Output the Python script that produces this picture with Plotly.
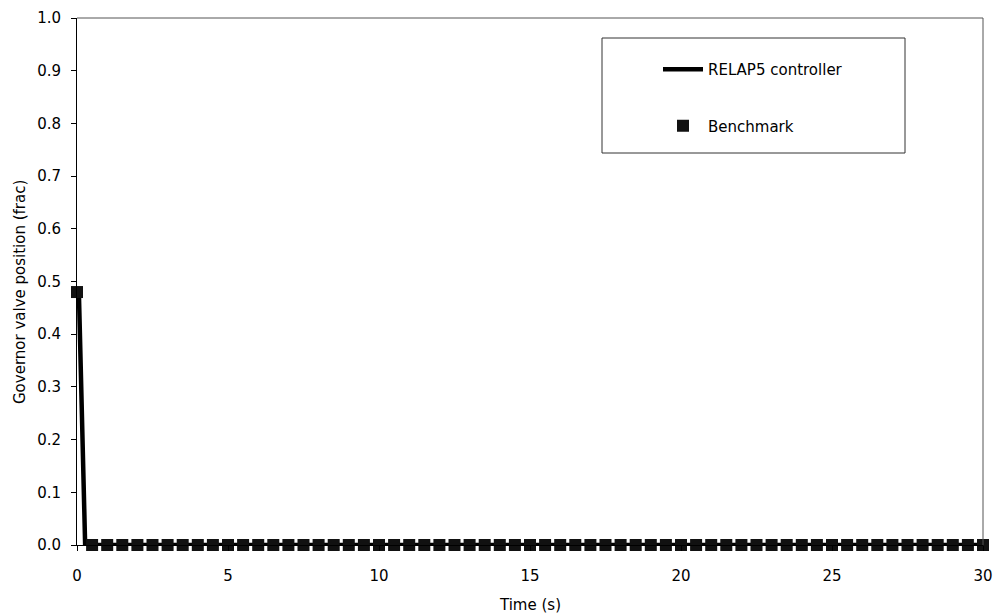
import plotly.graph_objects as go

# RELAP5 controller line
relap_time = [0.0, 0.06, 0.27, 30.0]
relap_pos = [0.485, 0.485, 0.0, 0.0]

# Benchmark points
bench_time = [0.0, 0.5, 1.0, 1.5, 2.0, 2.5, 3.0, 3.5, 4.0, 4.5, 5.0, 5.5, 6.0, 6.5, 7.0,
              7.5, 8.0, 8.5, 9.0, 9.5, 10.0, 10.5, 11.0, 11.5, 12.0, 12.5, 13.0, 13.5,
              14.0, 14.5, 15.0, 15.5, 16.0, 16.5, 17.0, 17.5, 18.0, 18.5, 19.0, 19.5,
              20.0, 20.5, 21.0, 21.5, 22.0, 22.5, 23.0, 23.5, 24.0, 24.5, 25.0, 25.5,
              26.0, 26.5, 27.0, 27.5, 28.0, 28.5, 29.0, 29.5, 30.0]
bench_pos = [0.48, 0.0, 0.0, 0.0, 0.0, 0.0, 0.0, 0.0, 0.0, 0.0, 0.0, 0.0, 0.0, 0.0, 0.0,
             0.0, 0.0, 0.0, 0.0, 0.0, 0.0, 0.0, 0.0, 0.0, 0.0, 0.0, 0.0, 0.0,
             0.0, 0.0, 0.0, 0.0, 0.0, 0.0, 0.0, 0.0, 0.0, 0.0, 0.0, 0.0,
             0.0, 0.0, 0.0, 0.0, 0.0, 0.0, 0.0, 0.0, 0.0, 0.0, 0.0, 0.0,
             0.0, 0.0, 0.0, 0.0, 0.0, 0.0, 0.0, 0.0, 0.0]

x_ticks = [0, 5, 10, 15, 20, 25, 30]
y_ticks = [0.0, 0.1, 0.2, 0.3, 0.4, 0.5, 0.6, 0.7, 0.8, 0.9, 1.0]

FONT = "DejaVu Sans"
L, R, T, B = 77, 12, 18, 71
W, H = 995, 616
PW, PH = W - L - R, H - T - B


def px_x(px):
    return (px - L) / PW


def px_y(py):
    return (H - B - py) / PH


fig = go.Figure()
fig.add_trace(go.Scatter(
    x=relap_time, y=relap_pos, mode="lines", name="RELAP5 controller",
    line=dict(color="black", width=4.5), legendgroup="a", cliponaxis=False))
fig.add_trace(go.Scatter(
    x=bench_time, y=bench_pos, mode="markers", name="Benchmark",
    marker=dict(symbol="square", size=12, color="#111111"), legendgroup="b",
    cliponaxis=False))

fig.update_layout(
    width=W, height=H,
    margin=dict(l=L, r=R, t=T, b=B, autoexpand=False),
    paper_bgcolor="white", plot_bgcolor="white",
    font=dict(family=FONT, size=15, color="black"),
    showlegend=True,
    legend=dict(x=px_x(658), y=px_y(53), xanchor="left", yanchor="top",
                bgcolor="rgba(0,0,0,0)", borderwidth=0,
                traceorder="grouped", tracegroupgap=34,
                font=dict(family=FONT, size=15), itemwidth=40),
    shapes=[
        dict(type="rect", xref="paper", yref="paper",
             x0=px_x(602), x1=px_x(905), y0=px_y(153), y1=px_y(38),
             line=dict(color="#333333", width=1), fillcolor="rgba(0,0,0,0)"),
        dict(type="path", xref="paper", yref="paper",
             path="M 0 1 L 1 1 L 1 0",
             line=dict(color="#555555", width=1)),
    ],
    annotations=[
        dict(text="Time (s)", xref="paper", yref="paper", x=px_x(530), y=px_y(605),
             xanchor="center", yanchor="middle", showarrow=False,
             font=dict(family=FONT, size=15)),
        dict(text="Governor valve position (frac)", xref="paper", yref="paper",
             x=px_x(20), y=px_y(292), xanchor="center", yanchor="middle",
             textangle=-90, showarrow=False, font=dict(family=FONT, size=15)),
    ],
)
fig.update_xaxes(
    range=[0, 30], tickvals=x_ticks, ticktext=[str(v) for v in x_ticks],
    showgrid=False, zeroline=False, showline=True, linecolor="black", linewidth=1,
    mirror=False, ticks="outside", ticklen=5, tickcolor="black", automargin=False,
    tickfont=dict(family=FONT, size=15), ticklabelstandoff=12)
fig.update_yaxes(
    range=[0, 1.0], tickvals=y_ticks, ticktext=[f"{v:.1f}" for v in y_ticks],
    showgrid=False, zeroline=False, showline=True, linecolor="black", linewidth=1,
    mirror=False, ticks="outside", ticklen=5, tickcolor="black", automargin=False,
    tickfont=dict(family=FONT, size=15), ticklabelstandoff=7)

fig.write_html("out.html")
